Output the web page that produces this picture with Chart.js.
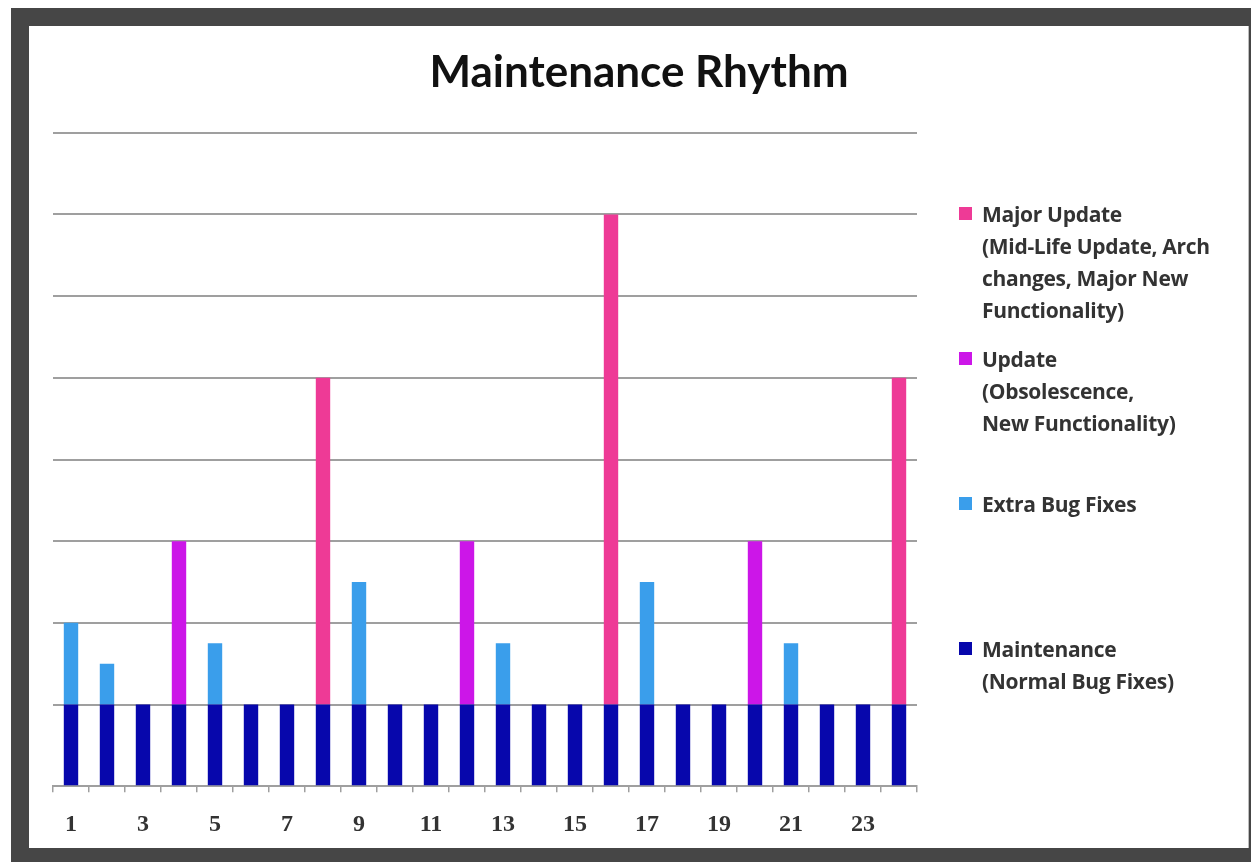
<!DOCTYPE html>
<html>
<head>
<meta charset="utf-8">
<title>Maintenance Rhythm</title>
<script src="https://cdn.jsdelivr.net/npm/chart.js@4.4.1/dist/chart.umd.min.js"></script>
<style>
    html, body { margin: 0; padding: 0; background: #fff; overflow: hidden; }
    #frame {
        position: absolute; left: 11px; top: 8px; right: 0; bottom: 0;
        background: #464646;
    }
    #sheet {
        position: absolute; left: 18px; top: 18px; width: 1219px; height: 822px;
        background: #fff; border-right: 1px solid #bdbdbd;
    }
    #chartBox { position: absolute; left: 0; top: 0; width: 1220px; height: 831px; }
    #legend {
        position: absolute; left: 930px; top: 172px; width: 290px;
        font-family: 'Open Sans', Lato, sans-serif; font-weight: bold;
        font-size: 21px; line-height: 32px; color: #333; letter-spacing: -0.3px;
    }
    .entry { position: relative; height: 145px; padding-left: 23px; }
    .swatch { position: absolute; left: 0; top: 9px; width: 13px; height: 13px; }
</style>
</head>
<body>
<div id="frame">
    <div id="sheet">
        <div id="chartBox"><canvas id="rhythmChart"></canvas></div>
        <div id="legend"></div>
    </div>
</div>

<script>
// --- data (units = grid steps) ---
const periods = ['1','2','3','4','5','6','7','8','9','10','11','12',
                 '13','14','15','16','17','18','19','20','21','22','23','24'];

const maintenance = [1,1,1,1,1,1,1,1,1,1,1,1,1,1,1,1,1,1,1,1,1,1,1,1];
const extraBugFixes = [1,0.5,0,0,0.75,0,0,0,1.5,0,0,0,0.75,0,0,0,1.5,0,0,0,0.75,0,0,0];
const updates = [0,0,0,2,0,0,0,0,0,0,0,2,0,0,0,0,0,0,0,2,0,0,0,0];
const majorUpdates = [0,0,0,0,0,0,0,4,0,0,0,0,0,0,0,6,0,0,0,0,0,0,0,4];

const yTicksMax = 8;

const legendMajor = ['Major Update', '(Mid-Life Update, Arch', 'changes, Major New', 'Functionality)'];
const legendUpdate = ['Update', '(Obsolescence,', 'New Functionality)'];
const legendExtra = ['Extra Bug Fixes'];
const legendMaint = ['Maintenance', '(Normal Bug Fixes)'];

function renderRhythmChart() {
    const ctx = document.getElementById('rhythmChart').getContext('2d');
    const gridGray = '#9f9f9f';

    const chart = new Chart(ctx, {
        type: 'bar',
        data: {
            labels: periods,
            datasets: [
                { label: legendMaint, data: maintenance, backgroundColor: '#0707AC' },
                { label: legendExtra, data: extraBugFixes, backgroundColor: '#3A9EEB' },
                { label: legendUpdate, data: updates, backgroundColor: '#CC16E8' },
                { label: legendMajor, data: majorUpdates, backgroundColor: '#EE3A96' }
            ]
        },
        options: {
            responsive: true,
            maintainAspectRatio: false,
            animation: false,
            datasets: {
                bar: { barPercentage: 0.4, categoryPercentage: 1.0, borderWidth: 0 }
            },
            layout: { padding: { left: 0, right: 0, top: 0, bottom: 0 } },
            plugins: {
                legend: { display: false },
                tooltip: { enabled: false },
                title: {
                    display: true,
                    text: 'Maintenance Rhythm',
                    color: '#111',
                    font: { family: 'Lato', size: 44, weight: 'bold' },
                    padding: { top: 20, bottom: 34 }
                }
            },
            scales: {
                x: {
                    stacked: true,
                    border: { display: true, color: gridGray, width: 2 },
                    grid: { display: true, drawOnChartArea: false, drawTicks: true, tickLength: 6, color: gridGray, lineWidth: 1.5 },
                    ticks: {
                        autoSkip: false,
                        maxRotation: 0,
                        padding: 18,
                        color: '#333',
                        font: { family: 'Liberation Serif', size: 24, weight: 'bold' },
                        // only every other period is labelled
                        callback: function(value, index) {
                            return index % 2 === 0 ? this.getLabelForValue(value) : '';
                        }
                    }
                },
                y: {
                    stacked: true,
                    min: 0,
                    max: yTicksMax,
                    border: { display: false },
                    grid: { color: gridGray, lineWidth: 2, drawTicks: false },
                    ticks: { display: false, stepSize: 1 },
                    afterFit: scale => { scale.width = 24; }
                },
                // empty right-hand box that keeps the plot clear of the legend
                side: {
                    position: 'right',
                    display: true,
                    border: { display: false },
                    grid: { display: false, drawTicks: false },
                    ticks: { display: false },
                    afterFit: scale => { scale.width = 332; }
                }
            }
        }
    });

    // HTML legend, top entry is the top of the stack
    const legend = document.getElementById('legend');
    chart.data.datasets.slice().reverse().forEach(ds => {
        const entry = document.createElement('div');
        entry.className = 'entry';
        const sw = document.createElement('span');
        sw.className = 'swatch';
        sw.style.background = ds.backgroundColor;
        entry.appendChild(sw);
        ds.label.forEach(line => {
            const d = document.createElement('div');
            d.textContent = line;
            entry.appendChild(d);
        });
        legend.appendChild(entry);
    });
}

document.addEventListener('DOMContentLoaded', renderRhythmChart);
</script>
</body>
</html>
